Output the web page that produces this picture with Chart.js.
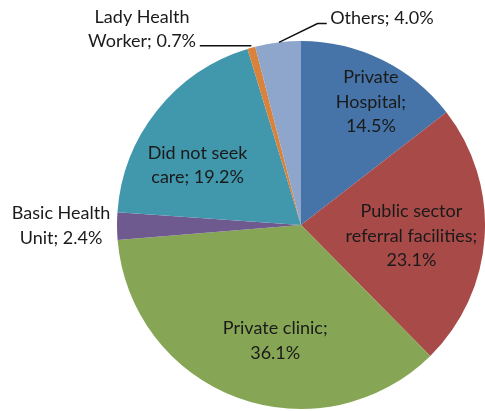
<!DOCTYPE html>
<html>
<head>
<meta charset="utf-8">
<script src="https://cdn.jsdelivr.net/npm/chart.js@4"></script>
<style>
  html, body { margin: 0; padding: 0; background: #fff; overflow: hidden; }
  #wrap { width: 485px; height: 411px; position: relative; }
</style>
</head>
<body>
<div id="wrap"><canvas id="pieChart"></canvas></div>
<script>
// dados do gráfico (sentido horário a partir do topo)
const categorias = ['Private Hospital', 'Public sector referral facilities', 'Private clinic',
                    'Basic Health Unit', 'Did not seek care', 'Lady Health Worker', 'Others'];
const percentuais = [14.5, 23.1, 36.1, 2.4, 19.2, 0.7, 4.0];
const cores = ['#4673a8', '#a84a48', '#86a655', '#6e5a8e', '#4197ab', '#d9823b', '#8ea6cc'];

// linhas de texto de cada rótulo
const linhasRotulo = [
  ['Private', 'Hospital;', '14.5%'],
  ['Public sector', 'referral facilities;', '23.1%'],
  ['Private clinic;', '36.1%'],
  ['Basic Health', 'Unit; 2.4%'],
  ['Did not seek', 'care; 19.2%'],
  ['Lady Health', 'Worker; 0.7%'],
  ['Others; 4.0%']
];

// posição do rótulo relativa ao centro, em unidades do raio (dx, dy)
const posRotulo = [
  [0.38, -0.67],
  [0.60, 0.06],
  [-0.14, 0.628],
  [-1.304, 0.005],
  [-0.562, -0.326],
  [-0.864, -1.063],
  [0.44, -1.125]
];

const rotulosPlugin = {
  id: 'rotulos',
  afterDatasetsDraw(chart) {
    const ctx = chart.ctx;
    const arcos = chart.getDatasetMeta(0).data;
    const cx = arcos[0].x, cy = arcos[0].y, r = arcos[0].outerRadius;
    ctx.save();
    ctx.font = '18px Lato, "Open Sans", sans-serif';
    ctx.fillStyle = '#1a1a1a';
    ctx.textAlign = 'center';
    ctx.textBaseline = 'middle';
    const alturaLinha = 24.5;

    linhasRotulo.forEach((linhas, i) => {
      const x = cx + posRotulo[i][0] * r;
      const y = cy + posRotulo[i][1] * r;
      const topo = y - (linhas.length - 1) * alturaLinha / 2;
      linhas.forEach((t, k) => ctx.fillText(t, x, topo + k * alturaLinha));
    });

    // linhas de chamada para as fatias pequenas
    ctx.strokeStyle = '#111';
    ctx.lineWidth = 1.5;
    const pontoBorda = (arc) => {
      const a = (arc.startAngle + arc.endAngle) / 2;
      return [cx + Math.cos(a) * r, cy + Math.sin(a) * r];
    };
    // Lady Health Worker
    let [ex, ey] = pontoBorda(arcos[5]);
    ctx.beginPath();
    ctx.moveTo(cx - 0.55 * r, ey - 2);
    ctx.lineTo(ex, ey - 2);
    ctx.stroke();
    // Others
    [ex, ey] = pontoBorda(arcos[6]);
    ctx.beginPath();
    ctx.moveTo(cx + 0.14 * r, cy - 1.095 * r);
    ctx.lineTo(cx + 0.09 * r, cy - 1.095 * r);
    ctx.lineTo(ex + 1, ey);
    ctx.stroke();
    ctx.restore();
  }
};

new Chart(document.getElementById('pieChart'), {
  type: 'pie',
  data: {
    labels: categorias,
    datasets: [{
      data: percentuais,
      backgroundColor: cores,
      borderWidth: 0
    }]
  },
  options: {
    responsive: true,
    maintainAspectRatio: false,
    animation: false,
    layout: { padding: { left: 117, right: 0, top: 41, bottom: 2 } },
    plugins: { legend: { display: false }, tooltip: { enabled: false } }
  },
  plugins: [rotulosPlugin]
});
</script>
</body>
</html>
